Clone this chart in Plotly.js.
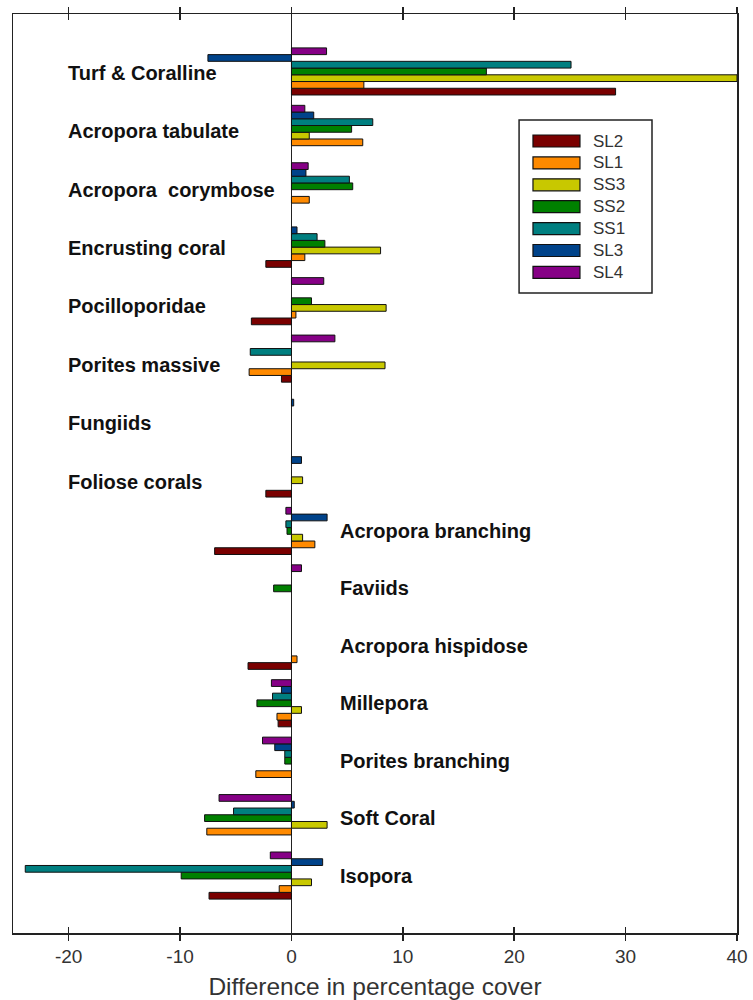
<!DOCTYPE html>
<html>
<head>
<meta charset="utf-8">
<script src="https://cdn.plot.ly/plotly-3.0.1.min.js"></script>
<style>
  html, body { margin: 0; padding: 0; background: #fff; }
  #chart { width: 753px; height: 1000px; }
</style>
</head>
<body>
<div id="chart"></div>
<script>
// Benthic groups, listed top to bottom
const categories = [
  "Turf & Coralline", "Acropora tabulate", "Acropora\u00a0 corymbose", "Encrusting coral",
  "Pocilloporidae", "Porites massive", "Fungiids", "Foliose corals",
  "Acropora branching", "Faviids", "Acropora hispidose", "Millepora",
  "Porites branching", "Soft Coral", "Isopora"
];

// Series names (legend order) and fill colours
const seriesNames = ["SL2", "SL1", "SS3", "SS2", "SS1", "SL3", "SL4"];
const seriesColors = ["#7a0000", "#ff8a00", "#c8c800", "#008000", "#007f80", "#00438a", "#860086"];

// Difference in percentage cover per group (null = no change recorded)
const SL2 = [29.1, null, null, -2.3, -3.6, -0.9, null, -2.3, -6.9, null, -3.9, -1.2, null, null, -7.4];
const SL1 = [6.5, 6.4, 1.6, 1.2, 0.4, -3.8, null, null, 2.1, null, 0.5, -1.3, -3.2, -7.6, -1.1];
const SS3 = [40, 1.6, null, 8.0, 8.5, 8.4, null, 1.0, 1.0, null, null, 0.9, null, 3.2, 1.8];
const SS2 = [17.5, 5.4, 5.5, 3.0, 1.8, null, null, null, -0.4, -1.6, null, -3.1, -0.6, -7.8, -9.9];
const SS1 = [25.1, 7.3, 5.2, 2.3, null, -3.7, null, null, -0.5, null, null, -1.7, -0.6, -5.2, -23.9];
const SL3 = [-7.5, 2.0, 1.3, 0.5, null, null, 0.2, 0.9, 3.2, null, null, -0.9, -1.5, 0.25, 2.8];
const SL4 = [3.15, 1.2, 1.5, null, 2.9, 3.9, null, null, -0.5, 0.9, null, -1.8, -2.6, -6.5, -1.9];

// Groups whose name sits left of the zero line; the rest sit to the right
const leftLabelled = categories.slice(0, 8);

// Axis ticks
const xTicks = [-20, -10, 0, 10, 20, 30, 40];
const xTickText = ["-20", "-10", "0", "10", "20", "30", "40"];

const seriesValues = [SL2, SL1, SS3, SS2, SS1, SL3, SL4];

const traces = seriesNames.map((name, i) => ({
  type: "bar",
  orientation: "h",
  name: name,
  x: seriesValues[i],
  y: categories,
  marker: { color: seriesColors[i], line: { color: "#111", width: 1 } },
  showlegend: false,
  hoverinfo: "x+name"
}));

// companion axis carrying the inward half of the tick marks
traces.push({ type: "scatter", x: [], y: [], xaxis: "x2", showlegend: false, hoverinfo: "skip" });

const labelFont = { family: "Liberation Sans, Arial, sans-serif", size: 20, color: "#111", weight: "bold" };

const annotations = categories.map((c, i) => {
  const isLeft = leftLabelled.includes(c);
  return {
    x: isLeft ? -20.2 : 4.2,
    y: c,
    xref: "x", yref: "y",
    text: "<b>" + c + "</b>",
    showarrow: false,
    xanchor: "left",
    yanchor: "middle",
    yshift: isLeft ? -(1.3 + i) : 0,
    font: labelFont
  };
});

// Legend drawn as a box with wide swatches
const legBox = { x0: 0.699, x1: 0.8826, y0: 0.6964, y1: 0.8847 };
const legRow0 = 1 - (141 - 14) / 919;
const legStep = 21.9 / 919;
const swH = 6 / 919;
const shapes = [{
  type: "rect", xref: "paper", yref: "paper",
  x0: legBox.x0, x1: legBox.x1, y0: legBox.y0, y1: legBox.y1,
  line: { color: "#222", width: 1.5 }, fillcolor: "#fff", layer: "above"
}];
seriesNames.forEach((name, i) => {
  const yc = legRow0 - i * legStep;
  shapes.push({
    type: "rect", xref: "paper", yref: "paper",
    x0: 0.7182, x1: 0.7831, y0: yc - swH, y1: yc + swH,
    line: { color: "#111", width: 1.2 }, fillcolor: seriesColors[i], layer: "above"
  });
  annotations.push({
    xref: "paper", yref: "paper", x: 0.7985, y: yc,
    xanchor: "left", yanchor: "middle", showarrow: false,
    text: name,
    font: { family: "Liberation Sans, Arial, sans-serif", size: 17, color: "#333" }
  });
});

const layout = {
  width: 753,
  height: 1000,
  margin: { l: 13, r: 16, t: 14, b: 67 },
  paper_bgcolor: "#fff",
  plot_bgcolor: "#fff",
  barmode: "group",
  bargap: 0.18,
  bargroupgap: 0,
  showlegend: false,
  font: { family: "Liberation Sans, Arial, sans-serif", color: "#333" },
  xaxis: {
    range: [-25, 40],
    tickvals: xTicks,
    ticktext: xTickText,
    ticks: "outside",
    ticklen: 6,
    tickwidth: 1.5,
    tickcolor: "#222",
    mirror: "ticks",
    showline: true,
    linecolor: "#222",
    linewidth: 1.5,
    showgrid: false,
    zeroline: true,
    zerolinecolor: "#222",
    zerolinewidth: 1.5,
    tickfont: { size: 19, color: "#333" },
    title: { text: "Difference in percentage cover", font: { size: 24.5, color: "#333" }, standoff: 11 },
    automargin: false,
    fixedrange: true
  },
  xaxis2: {
    overlaying: "x",
    matches: "x",
    anchor: "y",
    side: "bottom",
    tickvals: xTicks,
    ticks: "inside",
    ticklen: 6,
    tickwidth: 1.5,
    tickcolor: "#222",
    mirror: "ticks",
    showticklabels: false,
    showline: false,
    showgrid: false,
    zeroline: false
  },
  yaxis: {
    type: "category",
    categoryorder: "array",
    categoryarray: categories.slice().reverse(),
    range: [-1, 15],
    showticklabels: false,
    ticks: "",
    showline: true,
    mirror: true,
    linecolor: "#222",
    linewidth: 1.5,
    showgrid: false,
    zeroline: false,
    automargin: false,
    fixedrange: true
  },
  annotations: annotations,
  shapes: shapes
};

Plotly.newPlot("chart", traces, layout, { displayModeBar: false, staticPlot: true });
</script>
</body>
</html>
